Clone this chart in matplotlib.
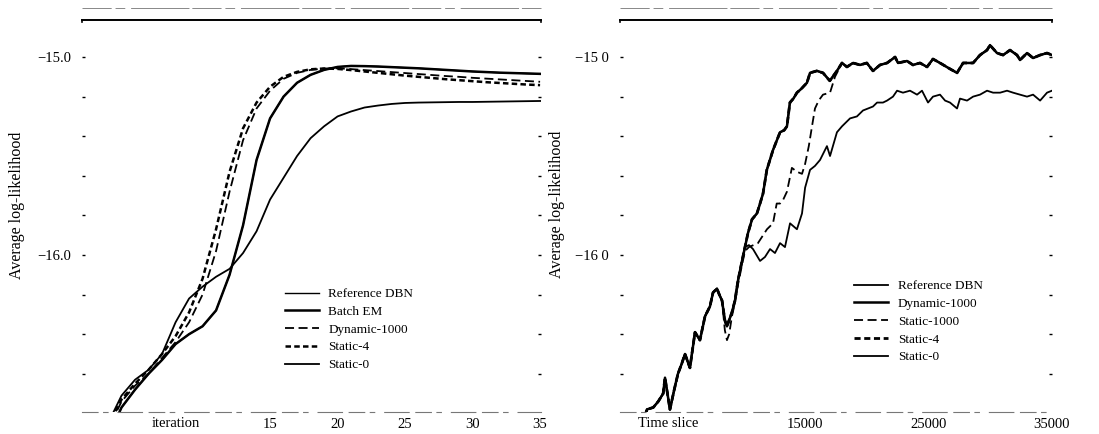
import numpy as np
import matplotlib
matplotlib.use('Agg')
import matplotlib.pyplot as plt
from matplotlib.lines import Line2D
from matplotlib.ticker import MultipleLocator

plt.rcParams['font.family'] = ['Liberation Serif', 'DejaVu Serif']

# ---- left panel: EM iterations ----
iters = list(range(1, 36))
batch_ll = [-17.5, -17.2, -16.92, -16.77, -16.68, -16.60, -16.53, -16.45, -16.40, -16.36,
            -16.28, -16.10, -15.85, -15.52, -15.31, -15.20, -15.13, -15.09, -15.065, -15.05,
            -15.045, -15.046, -15.048, -15.051, -15.054, -15.057, -15.061, -15.065, -15.069, -15.073,
            -15.076, -15.079, -15.081, -15.083, -15.085]
ref_ll = batch_ll
dyn_ll = [-17.4, -17.1, -16.88, -16.74, -16.66, -16.60, -16.52, -16.44, -16.34, -16.20,
          -15.98, -15.68, -15.42, -15.26, -15.17, -15.11, -15.08, -15.065, -15.058, -15.057,
          -15.061, -15.066, -15.071, -15.076, -15.081, -15.086, -15.091, -15.096, -15.100, -15.105,
          -15.109, -15.113, -15.117, -15.121, -15.125]
st4_ll = [-17.35, -17.05, -16.86, -16.73, -16.65, -16.58, -16.50, -16.41, -16.29, -16.12,
          -15.87, -15.58, -15.36, -15.23, -15.15, -15.10, -15.075, -15.062, -15.058, -15.06,
          -15.066, -15.073, -15.080, -15.087, -15.094, -15.100, -15.106, -15.112, -15.117, -15.122,
          -15.127, -15.131, -15.135, -15.139, -15.142]
st0_ll = [-17.3, -17.05, -16.85, -16.71, -16.63, -16.58, -16.50, -16.34, -16.22, -16.16,
          -16.11, -16.07, -15.99, -15.88, -15.72, -15.61, -15.50, -15.41, -15.35, -15.30,
          -15.275, -15.255, -15.245, -15.237, -15.232, -15.23, -15.229, -15.228, -15.227, -15.227,
          -15.226, -15.225, -15.224, -15.223, -15.222]

# ---- right panel: online learning over time slices ----
top_t = [1800, 2190, 2700, 3100, 3500, 3650, 3850, 4050, 4400, 4700, 5000, 5270, 5670, 6080,
         6480, 6890, 7290, 7540, 7860, 8050, 8270, 8500, 8670, 9070, 9320, 9560, 9890, 10130,
         10370, 10700, 11100, 11350, 11590, 11900, 12150, 12400, 12970, 13300, 13530, 13770,
         14050, 14340, 14700, 15150, 15400, 15960, 16450, 17000, 17580, 17990, 18390, 18880,
         19450, 20000, 20500, 21070, 21640, 22290, 22530, 23260, 23740, 24310, 24880, 25360,
         25930, 26740, 27310, 27800, 28610, 29170, 29740, 29980, 30550, 31040, 31600, 32170,
         32410, 32980, 33470, 34040, 34600, 35000]
top_v = [-16.86, -16.78, -16.77, -16.74, -16.70, -16.62, -16.70, -16.78, -16.68, -16.60,
         -16.55, -16.50, -16.57, -16.39, -16.43, -16.31, -16.26, -16.19, -16.17, -16.20,
         -16.23, -16.33, -16.36, -16.29, -16.23, -16.13, -16.03, -15.96, -15.89, -15.82,
         -15.79, -15.74, -15.69, -15.57, -15.52, -15.47, -15.38, -15.37, -15.35, -15.23,
         -15.21, -15.18, -15.16, -15.13, -15.08, -15.07, -15.08, -15.12, -15.07, -15.03,
         -15.05, -15.03, -15.04, -15.03, -15.07, -15.04, -15.03, -15.00, -15.03, -15.02,
         -15.04, -15.03, -15.05, -15.01, -15.03, -15.06, -15.08, -15.03, -15.03, -14.99,
         -14.965, -14.94, -14.98, -14.99, -14.965, -14.99, -15.015, -14.98, -15.005, -14.99,
         -14.98, -14.99]

# Static-1000 leaves the pack at ~10k slices and rejoins near 18k
s1000_t = top_t[:21] + [8500, 8670, 8850, 9070, 9320, 9560, 9890, 10130, 10450, 11180,
                        11910, 12400, 12700, 12970, 13230, 13530, 13930, 14350, 14750, 15000,
                        15300, 15560, 15800, 16100, 16450, 17020, 17420, 17830] + top_t[49:]
s1000_v = top_v[:21] + [-16.38, -16.43, -16.40, -16.31, -16.24, -16.15, -16.05, -15.98, -15.96,
                        -15.94, -15.87, -15.84, -15.74, -15.74, -15.72, -15.68, -15.56, -15.58,
                        -15.59, -15.54, -15.45, -15.35, -15.26, -15.22, -15.19, -15.18, -15.10,
                        -15.05] + top_v[49:]

s0_t = top_t[:28] + [10450, 10780, 11350, 11750, 12160, 12560, 12970, 13370, 13780, 14340,
                     14750, 15000, 15400, 15800, 16210, 16770, 17020, 17580, 17990, 18640,
                     19200, 19690, 20500, 20830, 21310, 21640, 22120, 22450, 22930, 23500,
                     24070, 24470, 24960, 25360, 25930, 26340, 26740, 27310, 27550, 28120,
                     28610, 29170, 29740, 30230, 30800, 31360, 31850, 32410, 32980, 33470,
                     34040, 34600, 35000]
s0_v = top_v[:28] + [-15.95, -15.97, -16.03, -16.01, -15.97, -15.99, -15.94, -15.96, -15.84,
                     -15.87, -15.79, -15.66, -15.57, -15.55, -15.52, -15.45, -15.50, -15.38,
                     -15.35, -15.31, -15.30, -15.27, -15.25, -15.23, -15.23, -15.22, -15.20,
                     -15.17, -15.18, -15.17, -15.19, -15.17, -15.23, -15.20, -15.19, -15.22,
                     -15.23, -15.26, -15.21, -15.22, -15.20, -15.19, -15.17, -15.18, -15.18,
                     -15.17, -15.18, -15.19, -15.20, -15.19, -15.22, -15.18, -15.17]

YLIM = (-16.793, -14.813)
FS = 10.5


def style_axes(ax):
    ax.set_ylim(*YLIM)
    ax.spines['left'].set_visible(False)
    ax.spines['right'].set_visible(False)
    ax.spines['top'].set_linewidth(1.4)
    ax.spines['bottom'].set_color('#777777')
    ax.spines['bottom'].set_linewidth(0.8)
    ax.spines['bottom'].set_linestyle((0, (14, 5, 4, 9, 22, 6)))
    ax.yaxis.set_major_locator(plt.FixedLocator([-16.0, -15.0]))
    ax.yaxis.set_minor_locator(MultipleLocator(0.2))
    ax.tick_params(axis='y', which='both', direction='in', left=True, right=True,
                   length=2, width=1, labelsize=FS, pad=8)
    ax.tick_params(axis='x', length=0, labelsize=FS, pad=4)
    # small end marks on the top rule
    ax.plot([0, 0], [0.995, 1.0], transform=ax.transAxes, color='black', lw=1.2, clip_on=False)
    ax.plot([1, 1], [0.995, 1.0], transform=ax.transAxes, color='black', lw=1.2, clip_on=False)


fig = plt.figure(figsize=(10.99, 4.34), dpi=100)
ax1 = fig.add_axes([0.0746, 0.0507, 0.4177, 0.9032])
ax2 = fig.add_axes([0.5641, 0.0507, 0.3931, 0.9032])

ax1.plot(iters, ref_ll, color='black', lw=1.0, label='Reference DBN')
ax1.plot(iters, batch_ll, color='black', lw=1.8, label='Batch EM')
ax1.plot(iters, dyn_ll, color='black', lw=1.3, ls=(0, (5, 2.5)), label='Dynamic-1000')
ax1.plot(iters, st4_ll, color='black', lw=1.8, ls=(0, (2.2, 1.3)), label='Static-4')
ax1.plot(iters, st0_ll, color='black', lw=1.3, label='Static-0')
style_axes(ax1)
ax1.set_xlim(1.07, 35.07)
ax1.set_xticks([15, 20, 25, 30, 35])
ax1.set_yticklabels(['\u221216.0', '\u221215.0'])
ax1.set_xlabel('iteration', fontsize=FS)
ax1.xaxis.set_label_coords(0.205, -0.012, transform=ax1.transAxes)
ax1.xaxis.label.set_va('top')
ax1.set_ylabel('Average log-likelihood', fontsize=11.5)
ax1.yaxis.set_label_coords(-0.125, 0.526)
ax1.legend(loc='upper left', bbox_to_anchor=(0.43, 0.33), frameon=False, fontsize=9.5,
           handlelength=2.6, labelspacing=0.42, handletextpad=0.7, borderaxespad=0)

ax2.plot(top_t, top_v, color='black', lw=1.3, label='Reference DBN')
ax2.plot(top_t, top_v, color='black', lw=1.8, label='Dynamic-1000')
ax2.plot(s1000_t, s1000_v, color='black', lw=1.3, ls=(0, (5, 2.5)), label='Static-1000')
ax2.plot(top_t, top_v, color='black', lw=2.0, ls=(0, (2.2, 1.3)), label='Static-4')
ax2.plot(s0_t, s0_v, color='black', lw=1.3, label='Static-0')
style_axes(ax2)
ax2.set_xlim(0, 35000)
ax2.set_xticks([15000, 25000, 35000])
ax2.set_yticklabels(['\u221216 0', '\u221215 0'])
ax2.set_xlabel('Time slice', fontsize=FS)
ax2.xaxis.set_label_coords(0.111, -0.012, transform=ax2.transAxes)
ax2.xaxis.label.set_va('top')
ax2.set_ylabel('Average log-likelihood', fontsize=11.5)
ax2.yaxis.set_label_coords(-0.127, 0.53)
ax2.legend(loc='upper left', bbox_to_anchor=(0.53, 0.35), frameon=False, fontsize=9.5,
           handlelength=2.6, labelspacing=0.42, handletextpad=0.7, borderaxespad=0)

# faint broken rule above each panel (page artefact in the scan)
for x0, x1 in [(82, 541), (620, 1052)]:
    fig.add_artist(Line2D([x0 / 1099, x1 / 1099], [1 - 8 / 434] * 2, color='#888888', lw=0.7,
                          ls=(0, (30, 4, 10, 6, 60, 3))))

fig.savefig('out.png', dpi=100)
